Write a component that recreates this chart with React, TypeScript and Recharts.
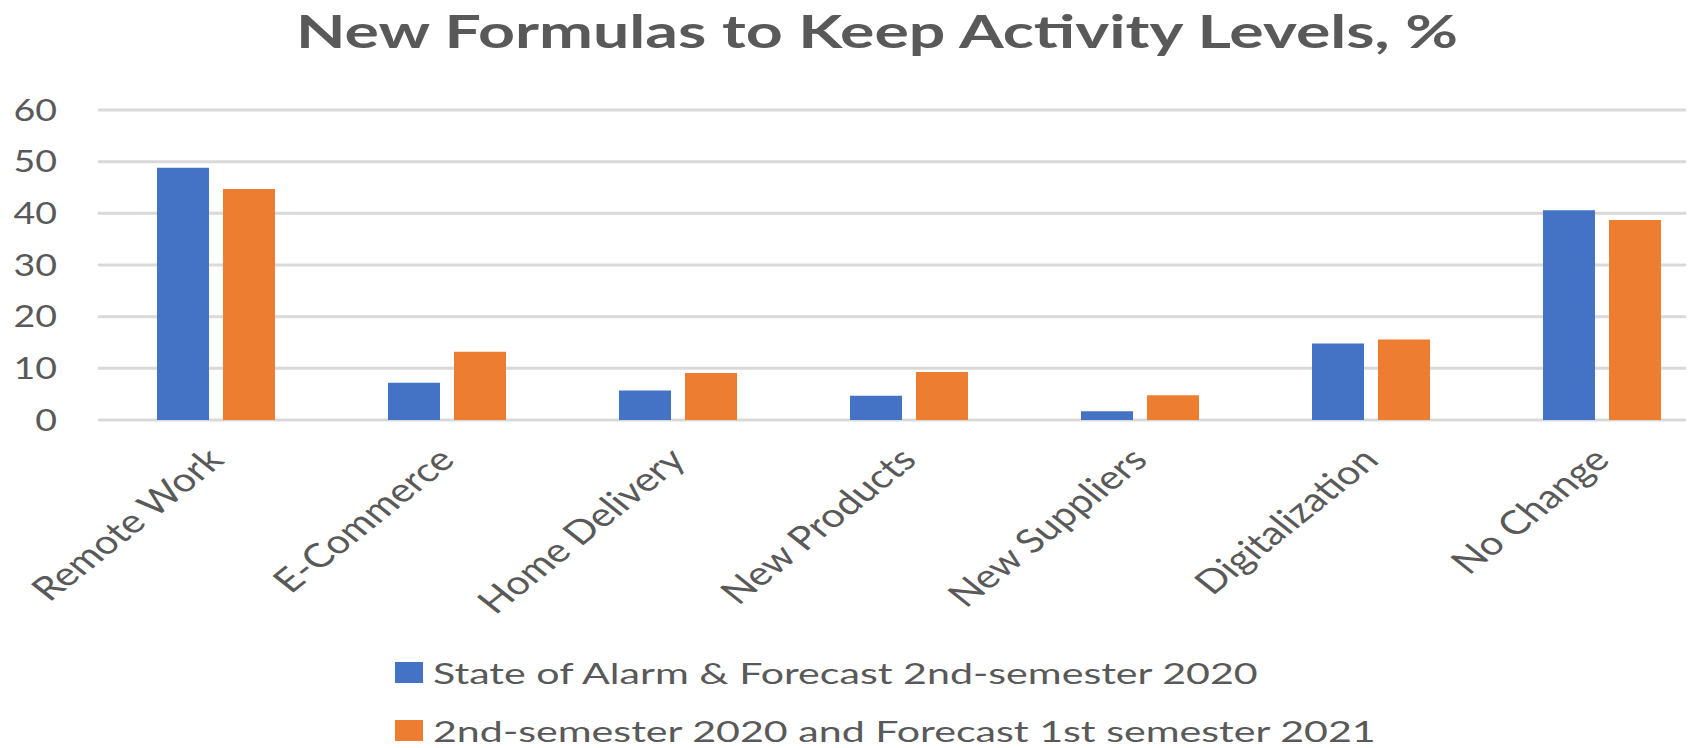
import React from "react";
import { BarChart, Bar, XAxis, YAxis, CartesianGrid, Legend } from "recharts";

const categories = [
  "Remote Work",
  "E-Commerce",
  "Home Delivery",
  "New Products",
  "New Suppliers",
  "Digitalization",
  "No Change",
];
const stateOfAlarm = [48.8, 7.2, 5.7, 4.7, 1.7, 14.8, 40.6];
const secondSemester = [44.7, 13.2, 9.1, 9.3, 4.8, 15.6, 38.7];
const yTicks = [0, 10, 20, 30, 40, 50, 60];

const seriesNames = [
  "State of Alarm & Forecast 2nd-semester 2020",
  "2nd-semester 2020 and Forecast 1st semester 2021",
];
const BLUE = "#4472C4";
const ORANGE = "#ED7D31";
const TEXT = "#595959";
const FONT = "Lato, 'Open Sans', sans-serif";
const SX = 1.25;

const data = categories.map((c, i) => ({
  name: c,
  a: stateOfAlarm[i],
  b: secondSemester[i],
}));

const YTick = (props: any) => {
  const { x, y, payload } = props;
  return (
    <g transform={`translate(${x},${y}) scale(${SX},1)`}>
      <text x={0} y={0} dy="0.36em" textAnchor="end" fill={TEXT} fontFamily={FONT} fontSize={30}>
        {payload.value}
      </text>
    </g>
  );
};

const XTick = (props: any) => {
  const { x, y, payload } = props;
  return (
    <g transform={`translate(${x + 10},${y + 42}) scale(${SX},1) rotate(-45)`}>
      <text x={0} y={0} textAnchor="end" fill={TEXT} fontFamily={FONT} fontSize={33}>
        {payload.value}
      </text>
    </g>
  );
};

const LegendContent = (props: any) => {
  const payload = [...(props.payload || [])].sort((p: any, q: any) =>
    String(p.dataKey).localeCompare(String(q.dataKey))
  );
  return (
    <div style={{ position: "relative", width: 1200, height: 88 }}>
      {payload.map((entry: any, i: number) => (
        <div key={i} style={{ position: "absolute", left: 0, top: i * 58, height: 30, width: 1200 }}>
          <div
            style={{
              position: "absolute",
              left: 0,
              top: 7,
              width: 28,
              height: 21,
              background: entry.color,
            }}
          />
          <span
            style={{
              position: "absolute",
              left: 38,
              top: 6,
              fontFamily: FONT,
              fontSize: 28,
              lineHeight: "24px",
              color: TEXT,
              whiteSpace: "nowrap",
              transform: `scaleX(1.47)`,
              transformOrigin: "left center",
              display: "inline-block",
            }}
          >
            {entry.value}
          </span>
        </div>
      ))}
    </div>
  );
};

export default function App() {
  return (
    <div style={{ position: "absolute", left: 0, top: 0, width: 1708, height: 748, background: "#fff" }}>
      <div
        style={{
          position: "absolute",
          left: 877,
          top: 8,
          fontFamily: FONT,
          fontWeight: 700,
          fontSize: 46,
          lineHeight: "46px",
          color: TEXT,
          whiteSpace: "nowrap",
          transform: `translateX(-50%) scaleX(1.4)`,
        }}
      >
        New Formulas to Keep Activity Levels, %
      </div>
      <BarChart
        width={1708}
        height={748}
        data={data}
        margin={{ top: 110, right: 22, bottom: 298, left: 0 }}
        barSize={52}
        barGap={14}
      >
        <CartesianGrid vertical={false} stroke="#D9D9D9" strokeWidth={3} />
        <XAxis
          dataKey="name"
          height={30}
          axisLine={false}
          tickLine={false}
          tickSize={0}
          tickMargin={0}
          interval={0}
          padding={{ left: 2, right: -31 }}
          tick={<XTick />}
        />
        <YAxis
          width={98}
          domain={[0, 60]}
          ticks={yTicks}
          axisLine={false}
          tickLine={false}
          tickSize={0}
          tickMargin={41}
          tick={<YTick />}
        />
        <Legend
          layout="horizontal"
          verticalAlign="middle"
          align="center"
          wrapperStyle={{ position: "absolute", top: 655, left: 395, width: 1200, height: 88 }}
          content={<LegendContent />}
        />
        <Bar dataKey="a" name={seriesNames[0]} fill={BLUE} isAnimationActive={false} />
        <Bar dataKey="b" name={seriesNames[1]} fill={ORANGE} isAnimationActive={false} />
      </BarChart>
    </div>
  );
}
